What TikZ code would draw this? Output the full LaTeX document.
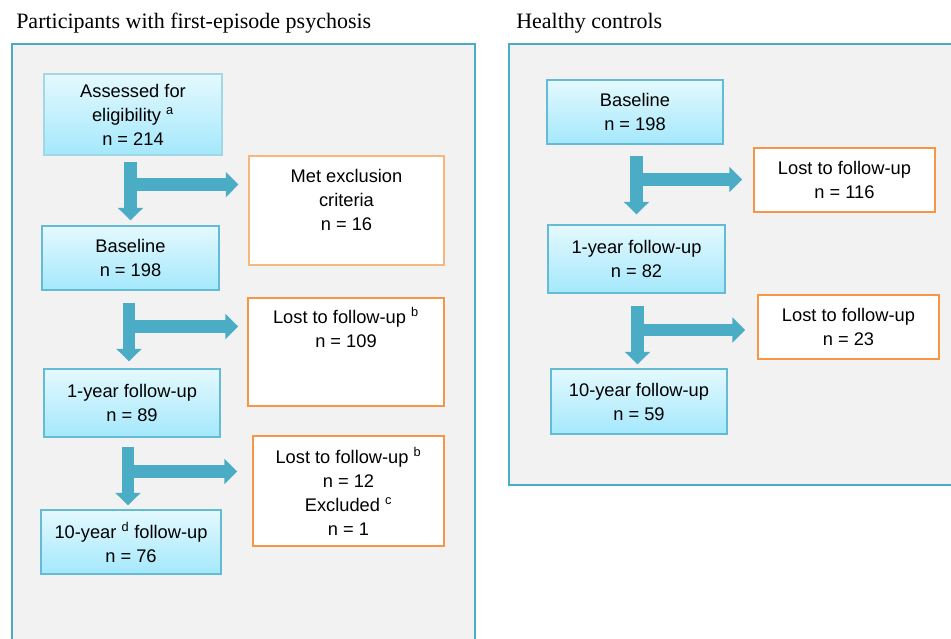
\documentclass[tikz,border=0pt]{standalone}
\usepackage{fontspec}
\setmainfont{Liberation Serif}
\setsansfont{Liberation Sans}
\usetikzlibrary{arrows.meta, calc}
\definecolor{panelfill}{RGB}{242, 242, 242}
\definecolor{panelblue}{RGB}{75, 172, 198}
\definecolor{flowblue}{RGB}{75, 172, 198}
\definecolor{stagetop}{RGB}{228, 249, 254}
\definecolor{stagebottom}{RGB}{164, 232, 252}
\definecolor{stageedge}{RGB}{100, 188, 212}
\definecolor{exitorange}{RGB}{247, 150, 70}

\tikzset{
  panel/.style={draw=panelblue, fill=panelfill, line width=1.5pt},
  paneltitle/.style={anchor=base west, font=\fontsize{16.5}{20}\selectfont, inner sep=0pt},
  stage/.style={draw=stageedge, line width=0.8pt, top color=stagetop, bottom color=stagebottom,
    align=center, font=\sffamily\fontsize{13.7}{18}\selectfont, inner sep=0pt},
  exitbox/.style={draw=exitorange, line width=1.3pt, fill=white,
    align=center, font=\sffamily\fontsize{13.7}{18}\selectfont, inner sep=0pt},
  flow/.style={draw=flowblue, line width=9.5pt, -{Triangle[length=9.5pt, width=18.5pt]}}
}

\begin{document}
\begin{tikzpicture}[x=0.75pt, y=-0.75pt]
  \useasboundingbox (0,0) rectangle (951,639);

  % Panels and their titles
  \draw[panel] (12,44) rectangle (475,650);
  \draw[panel] (509,44) rectangle (960,485);
  \node[paneltitle] (fepttl) at (16,28) {Participants with first-episode psychosis};
  \node[paneltitle] (hcttl) at (516,28) {Healthy controls};

  % First-episode psychosis stages
  \node[stage, draw=stageedge!60, minimum width=133.5pt, minimum height=60.75pt] (assess) at (133,114.5)
    {Assessed for\\eligibility \textsuperscript{a}\\n = 214};
  \node[stage, minimum width=132.75pt, minimum height=48pt] (base) at (130.5,258)
    {Baseline\\n = 198};
  \node[stage, minimum width=132pt, minimum height=51pt] (fuone) at (132,403)
    {1-year follow-up\\n = 89};
  \node[stage, minimum width=135pt, minimum height=48pt] (futen) at (131,542)
    {10-year \textsuperscript{d} follow-up\\n = 76};

  % First-episode psychosis exits
  \node[exitbox, draw=exitorange!70, line width=0.8pt, minimum width=146.25pt, minimum height=81.75pt] (excl) at (346.5,210.5)
    {Met exclusion\\criteria\\n = 16\\[-7pt]\strut};
  \node[exitbox, minimum width=147pt, minimum height=81pt] (lostone) at (346,352)
    {Lost to follow-up \textsuperscript{b}\\n = 109\\\strut\\[-5pt]\strut};
  \node[exitbox, minimum width=143.25pt, minimum height=82.5pt] (losttwo) at (348.5,491)
    {Lost to follow-up \textsuperscript{b}\\n = 12\\Excluded \textsuperscript{c}\\n = 1};

  % Healthy control stages and exits
  \node[stage, minimum width=132pt, minimum height=48pt] (hcbase) at (635,112)
    {Baseline\\n = 198};
  \node[stage, minimum width=132.75pt, minimum height=51pt] (hcone) at (636.5,259)
    {1-year follow-up\\n = 82};
  \node[stage, minimum width=132pt, minimum height=48.75pt] (hcten) at (639,401.5)
    {10-year follow-up\\n = 59};
  \node[exitbox, minimum width=135.75pt, minimum height=48pt] (hclostone) at (844.5,180)
    {Lost to follow-up\\n = 116};
  \node[exitbox, minimum width=135.75pt, minimum height=48pt] (hclosttwo) at (848.5,327)
    {Lost to follow-up\\n = 23};

  % Branch points on the down arrows
  \coordinate (brA) at ($(base.north |- assess.south)+(0,29)$);
  \coordinate (brB) at ($(fuone.north |- base.south)+(-3,36)$);
  \coordinate (brC) at ($(futen.north |- fuone.south)+(-3,34)$);
  \coordinate (brD) at ($(hcone.north |- hcbase.south)+(0,35)$);
  \coordinate (brE) at ($(hcten.north |- hcone.south)+(-1.5,36.5)$);

  % Split arrows, side branch first
  \draw[flow] (brA) -- ($(brA -| excl.west)+(-10,0)$);
  \draw[flow] ($(base.north |- assess.south)+(0,6)$) -- ($(base.north)+(0,-5)$);

  \draw[flow] (brB) -- ($(brB -| lostone.west)+(-9,0)$);
  \draw[flow] ($(fuone.north |- base.south)+(-3,12)$) -- ($(fuone.north)+(-3,-7)$);

  \draw[flow] (brC) -- ($(brC -| losttwo.west)+(-15,0)$);
  \draw[flow] ($(futen.north |- fuone.south)+(-3,9)$) -- ($(futen.north)+(-3,-4)$);

  \draw[flow] (brD) -- ($(brD -| hclostone.west)+(-11,0)$);
  \draw[flow] ($(hcone.north |- hcbase.south)+(0,11)$) -- ($(hcone.north)+(0,-10)$);

  \draw[flow] (brE) -- ($(brE -| hclosttwo.west)+(-12,0)$);
  \draw[flow] ($(hcten.north |- hcone.south)+(-1.5,12)$) -- ($(hcten.north)+(-1.5,-4)$);

\end{tikzpicture}
\end{document}
